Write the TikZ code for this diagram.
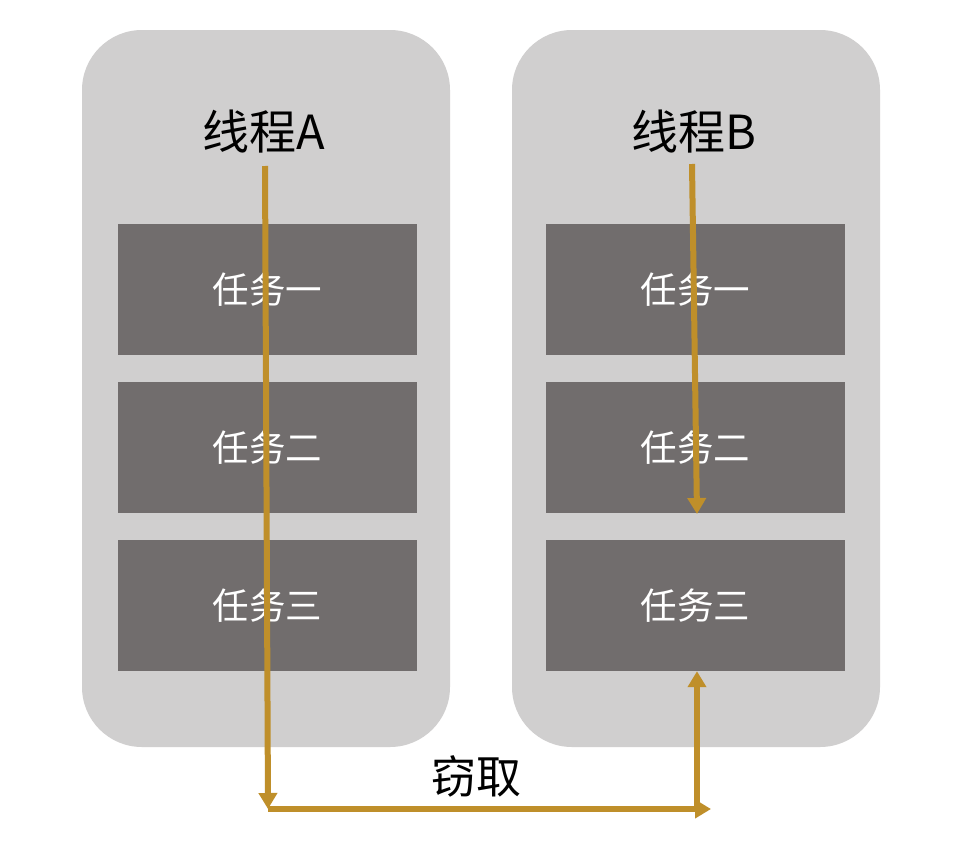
\documentclass[tikz,border=0pt]{standalone}
\usepackage{fontspec}
\setmainfont{Noto Sans CJK SC}
\usetikzlibrary{arrows.meta}
\definecolor{panelgray}{HTML}{D0CFCF}
\definecolor{taskgray}{HTML}{716D6D}
\definecolor{flowgold}{HTML}{BF8F2A}
\tikzset{
    panel/.style={fill=panelgray, draw=none, rounded corners=60pt},
    taskbox/.style={fill=taskgray, draw=none, minimum width=299pt, minimum height=131pt,
        text=white, font=\fontsize{36.5}{40}\selectfont},
    flow/.style={draw=flowgold, line width=6pt, -{Triangle[width=18pt,length=16pt]}}
}
\begin{document}
\begin{tikzpicture}[
        x=1pt,
        y=-1pt
    ]
    \useasboundingbox[fill=white] (0,0) rectangle (980,862);

    % Thread A
    \fill[panel] (82,30) rectangle (450,747);
    \node[font=\fontsize{47}{52}\selectfont] (titleA) at (264,132) {线程A};
    \node[taskbox] (a1) at (267.5,289.5) {任务一};
    \node[taskbox] (a2) at (267.5,447.5) {任务二};
    \node[taskbox] (a3) at (267.5,605.5) {任务三};

    % Thread B
    \fill[panel] (512,30) rectangle (880,747);
    \node[font=\fontsize{47}{52}\selectfont] (titleB) at (694,132) {线程B};
    \node[taskbox] (b1) at (695.5,289.5) {任务一};
    \node[taskbox] (b2) at (695.5,447.5) {任务二};
    \node[taskbox] (b3) at (695.5,605.5) {任务三};

    % Steal
    \node[font=\fontsize{45}{50}\selectfont] (steal) at (476,776) {窃取};

    \coordinate (aStart) at (265,166);
    \coordinate (aEnd) at (268,809);
    \coordinate (bStart) at (692,164);
    \coordinate (bEnd) at (697,514);
    \coordinate (stealCorner) at (697,809);
    \coordinate (stealEnd) at (711,809);

    \draw[flow] (aStart) -- (aEnd);
    \draw[flow] (aEnd) -- (stealEnd);
    \draw[flow] (stealCorner) -- (b3.south -| stealCorner);
    \draw[flow] (bStart) -- (bEnd);

\end{tikzpicture}
\end{document}
